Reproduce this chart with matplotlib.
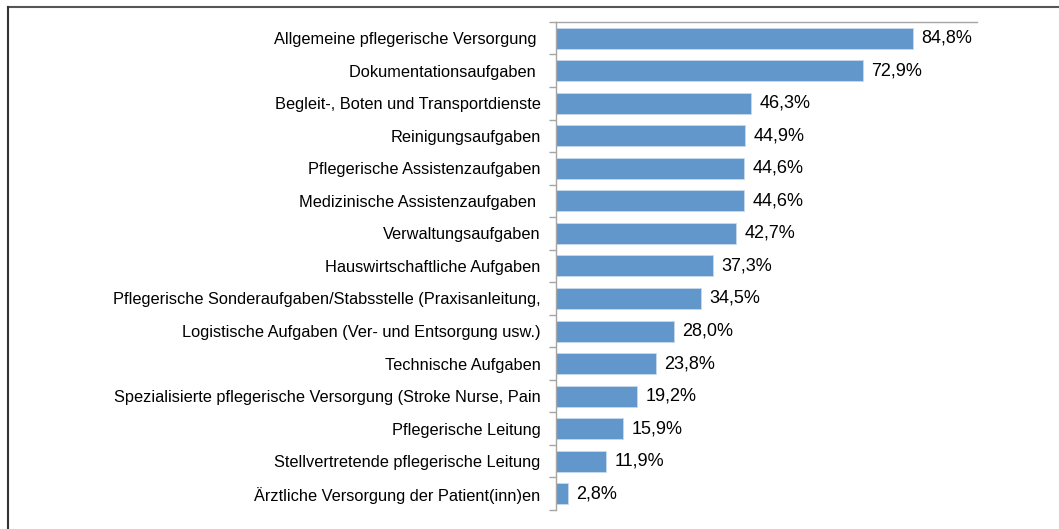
import matplotlib
matplotlib.use("Agg")
import matplotlib.pyplot as plt
from matplotlib.lines import Line2D
import numpy as np

plt.rcParams['font.family'] = ['Liberation Sans', 'DejaVu Sans']

# Kategorien und Werte (in %)
categories = [
    "Allgemeine pflegerische Versorgung ",
    "Dokumentationsaufgaben ",
    "Begleit-, Boten und Transportdienste",
    "Reinigungsaufgaben",
    "Pflegerische Assistenzaufgaben",
    "Medizinische Assistenzaufgaben ",
    "Verwaltungsaufgaben",
    "Hauswirtschaftliche Aufgaben",
    "Pflegerische Sonderaufgaben/Stabsstelle (Praxisanleitung,",
    "Logistische Aufgaben (Ver- und Entsorgung usw.)",
    "Technische Aufgaben",
    "Spezialisierte pflegerische Versorgung (Stroke Nurse, Pain",
    "Pflegerische Leitung",
    "Stellvertretende pflegerische Leitung",
    "Ärztliche Versorgung der Patient(inn)en",
]
values = [84.8, 72.9, 46.3, 44.9, 44.6, 44.6, 42.7, 37.3, 34.5, 28.0, 23.8, 19.2, 15.9, 11.9, 2.8]
value_labels = [f"{v:.1f}%".replace(".", ",") for v in values]

fig = plt.figure(figsize=(10.59, 5.29), dpi=100)
ax = fig.add_axes([0.525, 0.036, 0.3975, 0.9225])

y = np.arange(len(categories))
ax.barh(y, values, height=0.645, color='#6197CA', edgecolor='#C9DAEC', linewidth=0.6)

ax.set_xlim(0, 100)
ax.set_ylim(len(categories) - 0.5, -0.5)

# Beschriftungen
ax.set_yticks(y)
ax.set_yticklabels(categories, fontsize=11.8, color='black')
ax.tick_params(axis='y', which='major', length=0, pad=11)
ax.set_yticks(np.arange(-0.5, len(categories) + 0.5, 1), minor=True)
ax.tick_params(axis='y', which='minor', length=5, color='#A6A6A6', width=1)
ax.set_xticks([])

for yi, v, lab in zip(y, values, value_labels):
    ax.text(v + 2.0, yi, lab, va='center', ha='left', fontsize=13, color='black')

for s in ['right', 'bottom']:
    ax.spines[s].set_visible(False)
ax.spines['left'].set_color('#A6A6A6')
ax.spines['top'].set_color('#A6A6A6')
ax.spines['left'].set_linewidth(1)
ax.spines['top'].set_linewidth(1)

# Rahmen (oben und links)
fig.add_artist(Line2D([8 / 1059, 1], [1 - 7 / 529, 1 - 7 / 529], transform=fig.transFigure, color='#555555', lw=1.5))
fig.add_artist(Line2D([8 / 1059, 8 / 1059], [0, 1 - 7 / 529], transform=fig.transFigure, color='#333333', lw=1.5))

fig.savefig("out.png", dpi=100)
